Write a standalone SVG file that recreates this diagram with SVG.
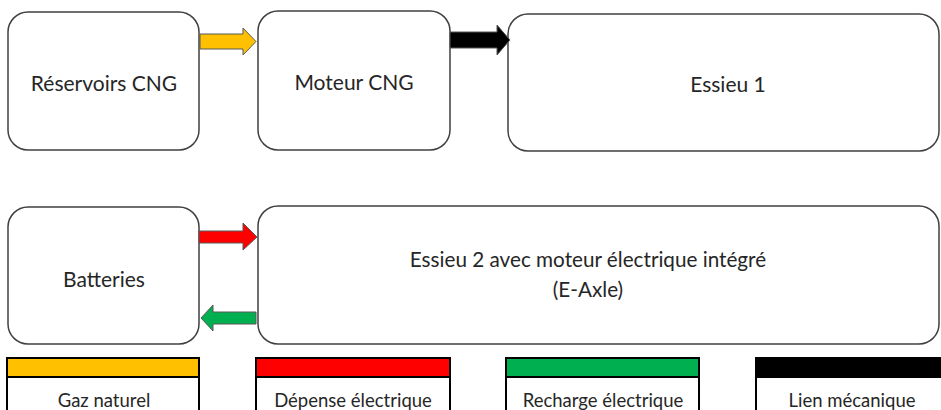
<svg xmlns="http://www.w3.org/2000/svg" width="941" height="410" viewBox="0 0 941 410">
<style>
.box{fill:#ffffff;stroke:#404040;stroke-width:1.5}
.lbl{font-family:Lato,"Liberation Sans",sans-serif;font-size:21px;fill:#262626;text-anchor:middle}
.lbl2{font-size:20.7px}
.leg{font-family:Lato,"Liberation Sans",sans-serif;font-size:18.5px;fill:#262626;text-anchor:middle}
.lbox{fill:#ffffff;stroke:#000000;stroke-width:2}
.arr{stroke:#595959;stroke-width:1;stroke-linejoin:miter}
</style>
<rect width="941" height="410" fill="#ffffff"/>
<g id="node-reservoirs">
<rect class="box" x="8" y="12" width="191" height="138" rx="20"/>
<text class="lbl" x="104" y="91">Réservoirs CNG</text>
</g>
<g id="node-moteur">
<rect class="box" x="258" y="11" width="192" height="139" rx="20"/>
<text class="lbl" x="354" y="90">Moteur CNG</text>
</g>
<g id="node-essieu1">
<rect class="box" x="508" y="14" width="431" height="137" rx="20"/>
<text class="lbl" x="728" y="92">Essieu 1</text>
</g>
<g id="node-batteries">
<rect class="box" x="8" y="207" width="191" height="137" rx="20"/>
<text class="lbl" x="104" y="287">Batteries</text>
</g>
<g id="node-essieu2">
<rect class="box" x="258" y="206" width="681" height="138" rx="20"/>
<text class="lbl lbl2" x="588" y="267">Essieu 2 avec moteur électrique intégré</text>
<text class="lbl lbl2" x="588" y="297">(E-Axle)</text>
</g>
<g id="connectors">
<polygon class="arr" fill="#FFC000" points="200,34 243,34 243,28 256,41.5 243,55 243,49 200,49"/>
<polygon class="arr" fill="#000000" points="450,32 497,32 497,25 510,40 497,55 497,48 450,48"/>
<polygon class="arr" fill="#FF0000" points="199,231 243,231 243,223 257,237 243,250 243,243 199,243"/>
<polygon class="arr" fill="#00B050" points="256,312 213,312 213,305 201,318 213,331 213,324 256,324"/>
</g>
<g id="legend-gaz">
<rect class="lbox" x="7" y="358" width="192" height="70"/>
<rect x="7" y="358" width="192" height="19" fill="#FFC000" stroke="#000000" stroke-width="2"/>
<text class="leg" x="104" y="407">Gaz naturel</text>
</g>
<g id="legend-depense">
<rect class="lbox" x="256" y="358" width="194" height="70"/>
<rect x="256" y="358" width="194" height="19" fill="#FF0000" stroke="#000000" stroke-width="2"/>
<text class="leg" x="353" y="407">Dépense électrique</text>
</g>
<g id="legend-recharge">
<rect class="lbox" x="506" y="358" width="193" height="70"/>
<rect x="506" y="358" width="193" height="19" fill="#00B050" stroke="#000000" stroke-width="2"/>
<text class="leg" x="603" y="407">Recharge électrique</text>
</g>
<g id="legend-lien">
<rect class="lbox" x="756" y="358" width="200" height="70"/>
<rect x="756" y="358" width="200" height="19" fill="#000000" stroke="#000000" stroke-width="2"/>
<text class="leg" x="852" y="407">Lien mécanique</text>
</g>
</svg>
